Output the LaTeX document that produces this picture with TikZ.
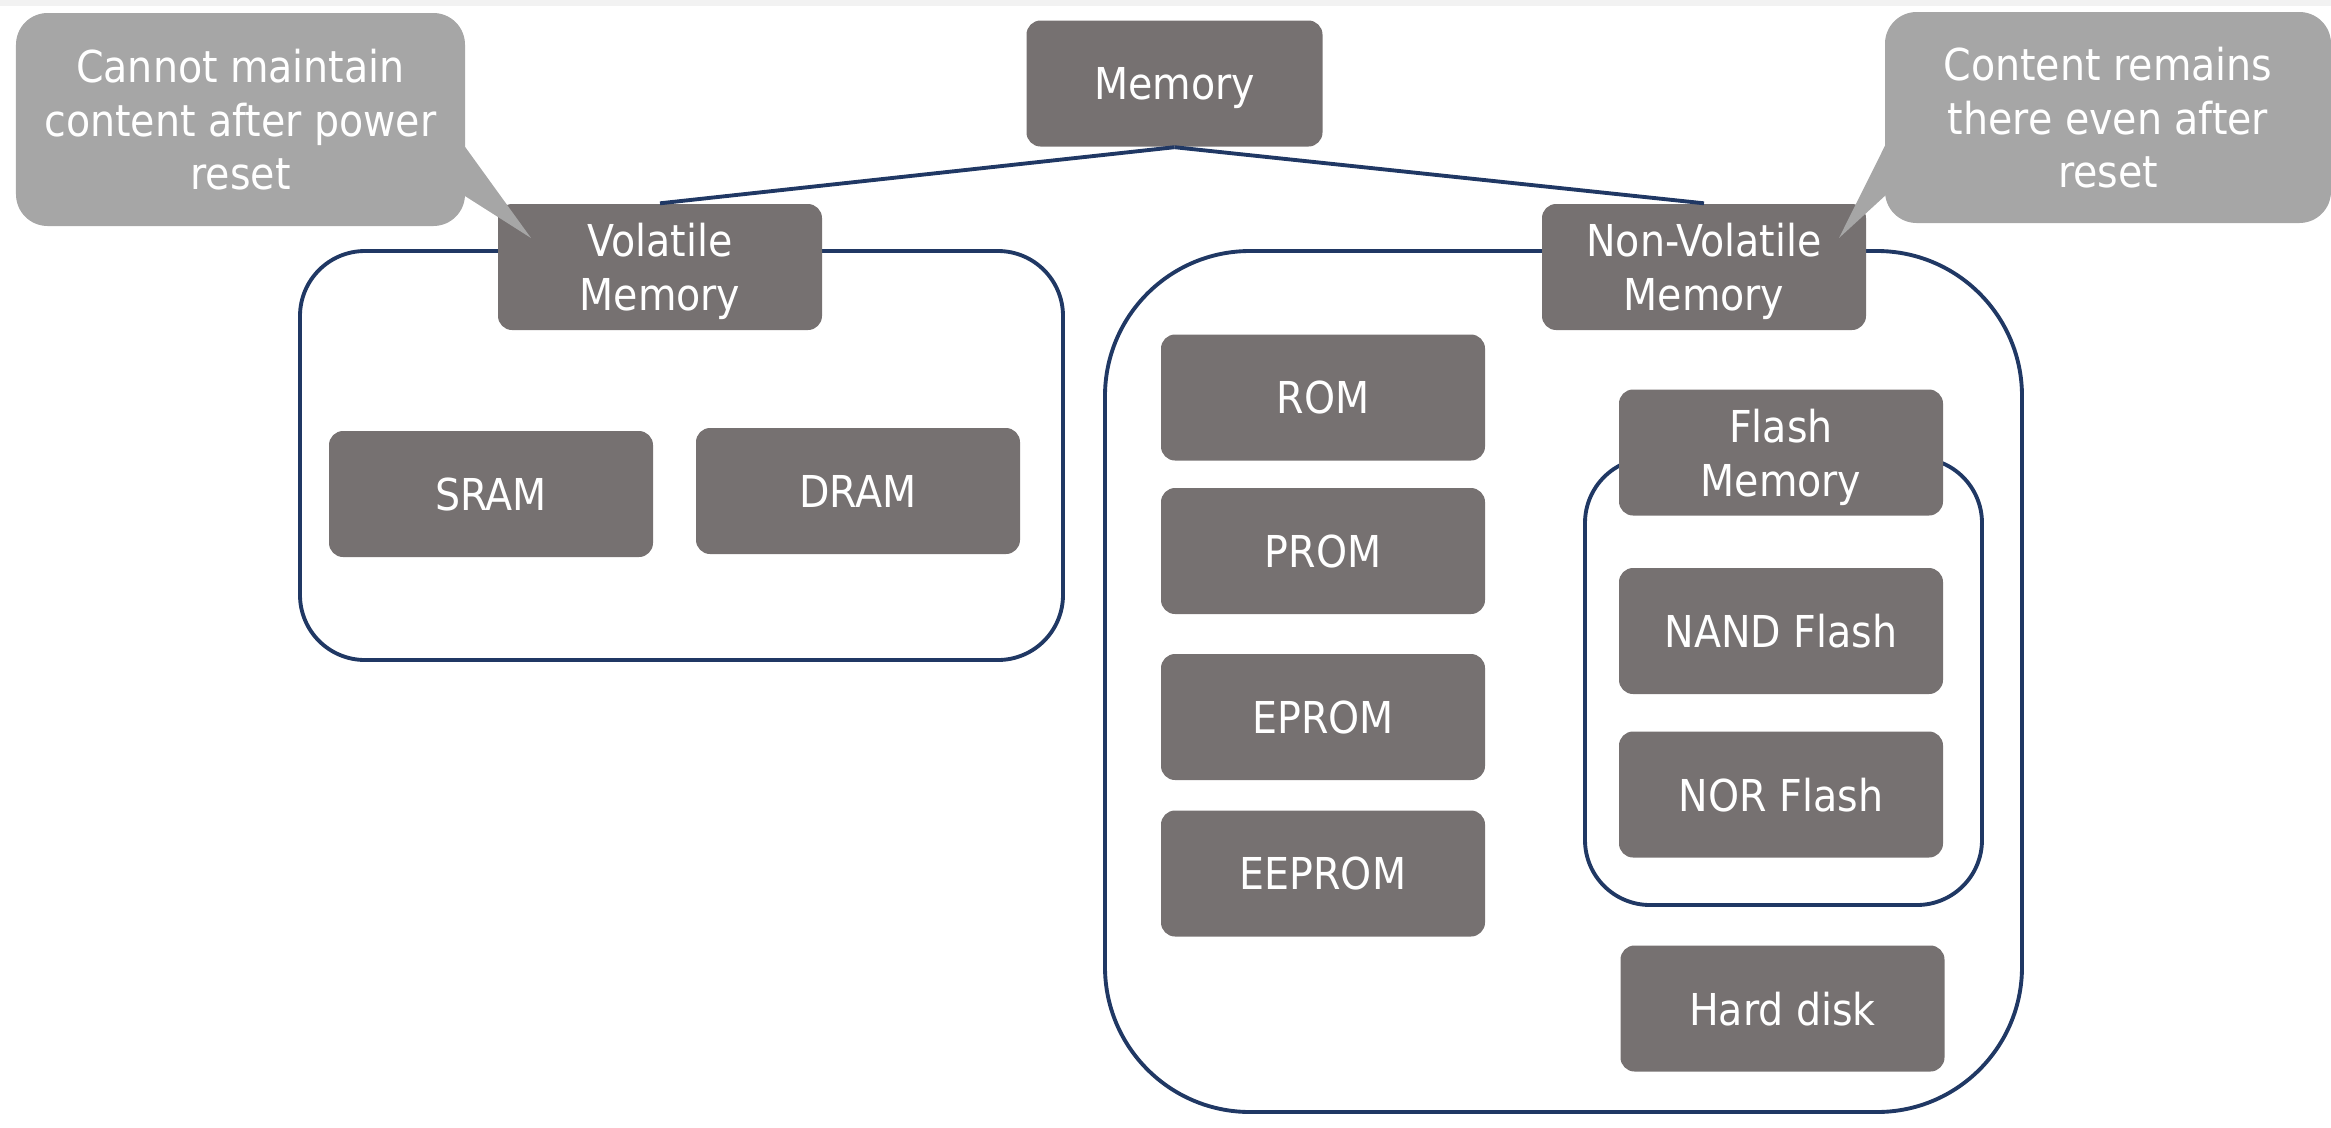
\documentclass[tikz,border=0pt]{standalone}
\usepackage{fontspec}
\setmainfont{DejaVu Sans Condensed}
\definecolor{boxGray}{HTML}{767171}
\definecolor{noteGray}{HTML}{A6A6A6}
\definecolor{lineNavy}{HTML}{203864}
\definecolor{stripGray}{HTML}{F2F2F2}
\usetikzlibrary{calc}

\begin{document}
\begin{tikzpicture}[
    mem/.style={rectangle, rounded corners=4pt, fill=boxGray, text=white,
                minimum width=3.24cm, minimum height=1.26cm, align=center, text depth=0pt,
                font=\fontsize{12.5}{15.3}\selectfont, inner sep=2pt},
    note/.style={rectangle, rounded corners=9pt, fill=noteGray, text=white, text depth=0pt,
                 align=center, font=\fontsize{12.5}{15.2}\selectfont, inner sep=2pt},
    group/.style={rectangle, draw=lineNavy, line width=1.1pt},
    link/.style={draw=lineNavy, line width=1.1pt}
  ]
    \useasboundingbox (0,0) rectangle (23.31,-11.28);
    \fill[stripGray] (0,0) rectangle (23.31,-0.06);

    % containers
    \node[group, rounded corners=0.65cm, minimum width=7.63cm, minimum height=4.09cm] (volgrp) at (6.815,-4.555) {};
    \node[group, rounded corners=1.45cm, minimum width=9.17cm, minimum height=8.61cm] (nvgrp) at (15.635,-6.815) {};
    \node[group, rounded corners=0.65cm, minimum width=3.97cm, minimum height=4.47cm] (flashgrp) at (17.835,-6.815) {};

    % tree
    \node[mem, minimum width=2.96cm] (mem) at (11.745,-0.835) {Memory};
    \node[mem] (vol) at (6.60,-2.67) {Volatile\\Memory};
    \node[mem] (nonvol) at (17.04,-2.67) {Non-Volatile\\Memory};
    \draw[link] (mem.south) -- (vol.north);
    \draw[link] (mem.south) -- (nonvol.north);

    \node[mem] (sram) at (4.91,-4.94) {SRAM};
    \node[mem] (dram) at (8.58,-4.91) {DRAM};

    \node[mem] (rom) at (13.23,-3.975) {ROM};
    \node[mem] (prom) at (13.23,-5.51) {PROM};
    \node[mem] (eprom) at (13.23,-7.17) {EPROM};
    \node[mem] (eeprom) at (13.23,-8.735) {EEPROM};

    \node[mem] (flash) at (17.81,-4.525) {Flash\\Memory};
    \node[mem] (nand) at (17.81,-6.31) {NAND Flash};
    \node[mem] (nor) at (17.81,-7.945) {NOR Flash};
    \node[mem] (hdd) at (17.825,-10.085) {Hard disk};

    % callouts
    \node[note, minimum width=4.49cm, minimum height=2.13cm] (notevol) at (2.405,-1.195)
      {Cannot maintain\\content after power\\reset};
    \coordinate (tipvol) at (5.31,-2.38);
    \fill[noteGray] ([xshift=-2pt,yshift=-0.185cm]notevol.east) -- (tipvol)
      -- ([xshift=-2pt,yshift=-0.725cm]notevol.east) -- cycle;

    \node[note, minimum width=4.46cm, minimum height=2.11cm] (notenv) at (21.08,-1.175)
      {Content remains\\there even after\\reset};
    \coordinate (tipnv) at (18.39,-2.38);
    \fill[noteGray] ([xshift=2pt,yshift=-0.155cm]notenv.west) -- (tipnv)
      -- ([xshift=2pt,yshift=-0.725cm]notenv.west) -- cycle;
  \end{tikzpicture}
\end{document}
